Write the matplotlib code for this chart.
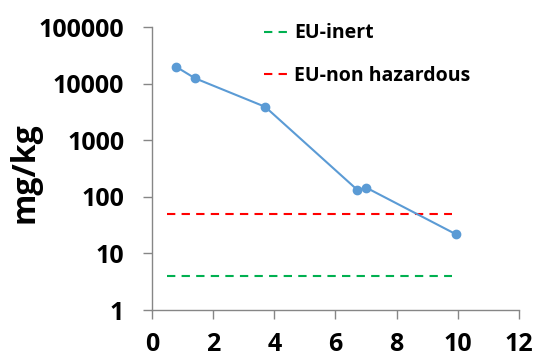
import matplotlib
matplotlib.use("Agg")
import matplotlib.pyplot as plt
from matplotlib.ticker import FixedLocator, FixedFormatter, NullLocator

# data
x_vals = [0.78, 1.4, 3.7, 6.72, 7.0, 9.93]
y_vals = [20000, 12500, 3900, 132, 146, 22]
limit_x = [0.5, 9.8]
inert_level = 4
nonhaz_level = 50
y_ticks = [1, 10, 100, 1000, 10000, 100000]
x_ticks = [0, 2, 4, 6, 8, 10, 12]

plt.rcParams['font.family'] = ['Open Sans', 'DejaVu Sans']
plt.rcParams['font.weight'] = 'bold'

fig = plt.figure(figsize=(5.36, 3.56), dpi=100)
ax = fig.add_axes([0.2836, 0.129, 0.6846, 0.795])

axis_col = '#868686'

ax.plot(limit_x, [inert_level, inert_level], color='#00B050', lw=1.5,
        dashes=(4, 3), label='EU-inert')
ax.plot(limit_x, [nonhaz_level, nonhaz_level], color='#FF0000', lw=1.5,
        dashes=(4, 3), label='EU-non hazardous')
ax.plot(x_vals, y_vals, color='#5B9BD5', lw=1.5, marker='o', ms=6)

ax.set_yscale('log')
ax.set_ylim(1, 100000)
ax.set_xlim(0, 12)
ax.yaxis.set_major_locator(FixedLocator(y_ticks))
ax.yaxis.set_major_formatter(FixedFormatter([str(v) for v in y_ticks]))
ax.yaxis.set_minor_locator(NullLocator())
ax.set_xticks(x_ticks)

for s in ['top', 'right']:
    ax.spines[s].set_visible(False)
for s in ['left', 'bottom']:
    ax.spines[s].set_color(axis_col)
    ax.spines[s].set_linewidth(1.0)

ax.tick_params(axis='both', direction='out', length=6.5, width=1.0,
               color=axis_col, labelsize=18)
ax.tick_params(axis='y', pad=13.5)
ax.tick_params(axis='x', pad=9.5)
for lab in ax.get_xticklabels() + ax.get_yticklabels():
    lab.set_fontweight('bold')

# y label placed by figure coordinates
fig.text(25 / 536, 1 - 172.5 / 356, 'mg/kg', rotation=90, ha='center',
         va='center', fontsize=23, fontweight='bold')

leg = ax.legend(loc='upper left', bbox_to_anchor=(0.258, 1.075), frameon=False,
                fontsize=14, handlelength=1.45, handletextpad=0.1,
                labelspacing=1.15)
for t in leg.get_texts():
    t.set_fontweight('bold')

fig.savefig('out.png', dpi=100)
